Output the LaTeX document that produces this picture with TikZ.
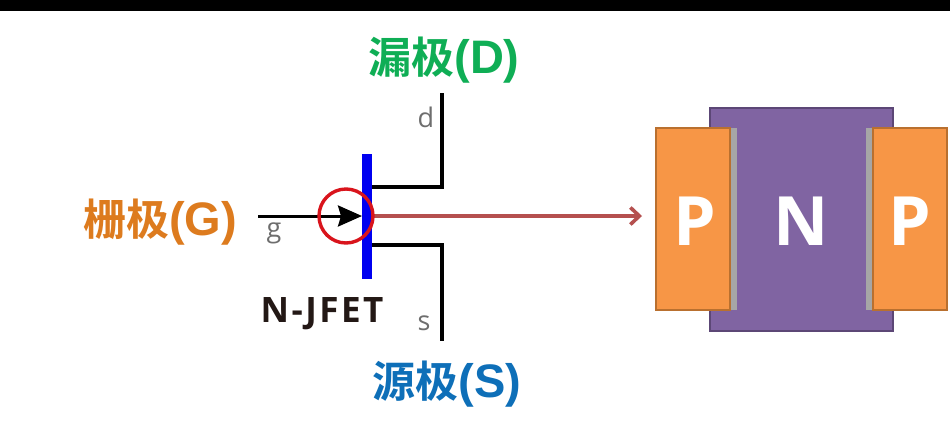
\documentclass[tikz,border=0pt]{standalone}
\usepackage{fontspec}
\setmainfont{Open Sans}
\newfontfamily\cjk{Noto Sans CJK SC}[BoldFont={* Bold}]
\newfontfamily\lat{Liberation Sans}
\newfontfamily\jf{Open Sans}[LetterSpace=7]
\usetikzlibrary{arrows.meta}
\definecolor{cgreen}{HTML}{0FAE55}
\definecolor{corange}{HTML}{DD7B1E}
\definecolor{cblue}{HTML}{0E6FB8}
\definecolor{cpurple}{HTML}{8064A2}
\definecolor{cpurpled}{HTML}{5C4776}
\definecolor{cporange}{HTML}{F79646}
\definecolor{cporanged}{HTML}{B9702F}
\definecolor{cgate}{HTML}{0000F0}
\definecolor{cring}{HTML}{D9141C}
\definecolor{carrow}{HTML}{B5504F}
\definecolor{cgrey}{HTML}{A6A6A6}
\definecolor{ctxt}{HTML}{6E6E6E}
\definecolor{cdark}{HTML}{231815}
\newcommand{\termlabel}[2]{{\cjk\bfseries\fontsize{43}{43}\selectfont #1}{\lat\bfseries\fontsize{47}{47}\selectfont #2}}
\tikzset{
  x=1pt,y=-1pt,
  box/.style={rectangle,inner sep=0pt,outer sep=0pt,anchor=north west},
  terminal/.style={inner sep=0pt},
  pin/.style={font=\fontsize{27}{27}\selectfont,text=ctxt,inner sep=0pt},
  layer/.style={font=\bfseries\fontsize{68}{68}\selectfont,text=white,inner sep=0pt},
  wire/.style={draw=black,line width=3.2pt,line join=miter},
}
\begin{document}
\begin{tikzpicture}
\useasboundingbox (0,0) rectangle (950,440);
\fill[white] (0,0) rectangle (950,440);
\fill[black] (0,0) rectangle (950,11);
% device cross-section
\node[box,fill=cpurple,draw=cpurpled,line width=1.5pt,minimum width=183pt,minimum height=223pt] (n) at (710,108) {};
\node[box,fill=cgrey,minimum width=7pt,minimum height=182pt] (gl) at (730,128) {};
\node[box,fill=cgrey,minimum width=7pt,minimum height=182pt] (gr) at (866,128) {};
\node[box,fill=cporange,draw=cporanged,line width=1.5pt,minimum width=74pt,minimum height=182pt] (pl) at (656,128) {};
\node[box,fill=cporange,draw=cporanged,line width=1.5pt,minimum width=74pt,minimum height=182pt] (pr) at (873,128) {};
\node[layer] (pltext) at (695,221) {P};
\node[layer] (ntext) at (801,221) {N};
\node[layer] (prtext) at (910,221) {P};
% symbol
\coordinate (gin) at (258,216);
\coordinate (dend) at (442,93);
\coordinate (send) at (442,341);
\coordinate (dbend) at (442,187);
\coordinate (sbend) at (442,245);
\node[box,fill=cgate,minimum width=10pt,minimum height=125pt] (bar) at (362,154) {};
\coordinate (dstart) at (372,187);
\coordinate (sstart) at (372,245);
\draw[wire] (dstart) -- (dbend) -- (dend);
\draw[wire] (sstart) -- (sbend) -- (send);
\draw[draw=carrow,line width=3.6pt,shorten >=14pt,-{Straight Barb[length=9pt,width=17pt,line width=3.6pt]}] (bar.east |- 0,216) -- (pl.west |- 0,216) ;
\draw[black,line width=3pt,-{Stealth[length=24pt,width=21pt,inset=3pt]}] (gin) -- (bar.west |- gin);
\node[circle,draw=cring,line width=3.4pt,minimum size=54pt,inner sep=0pt] (ring) at (346,216) {};
% labels
\node[terminal,text=cgreen] (dl) at (444,60) {\termlabel{漏极}{(D)}};
\node[terminal,text=corange] (gl2) at (160,222) {\termlabel{栅极}{(G)}};
\node[terminal,text=cblue] (sl) at (447,384) {\termlabel{源极}{(S)}};
\node[font=\jf\bfseries\fontsize{35}{35}\selectfont,text=cdark,inner sep=0pt] (jfet) at (322,314) {N-JFET};
\node[pin] (dt) at (426,117) {d};
\node[pin] (gt) at (274,233) {g};
\node[pin] (st) at (424,323) {s};
\end{tikzpicture}
\end{document}
